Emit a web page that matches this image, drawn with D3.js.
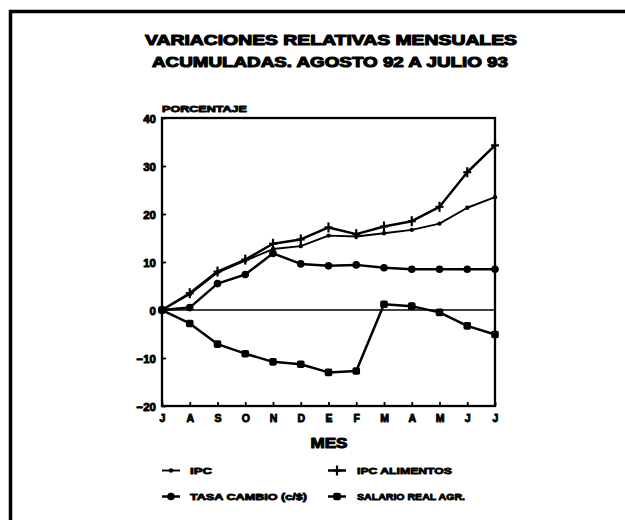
<!DOCTYPE html>
<html><head><meta charset="utf-8">
<script src="https://cdn.jsdelivr.net/npm/d3@7"></script>
<style>
html,body{margin:0;padding:0;background:#fff;}
text{font-family:"Liberation Sans",Arial,sans-serif;font-weight:bold;fill:#000;}
</style></head>
<body>
<svg id="chart" width="625" height="520"></svg>
<script>
const months = ["J","A","S","O","N","D","E","F","M","A","M","J","J"];
const ipc       = [0, 3.3, 7.8, 10.3, 12.7, 13.3, 15.5, 15.3, 16.0, 16.7, 18.0, 21.3, 23.5];
const ipcAlim   = [0, 3.5, 8.0, 10.5, 13.8, 14.7, 17.2, 15.8, 17.4, 18.5, 21.5, 28.7, 34.3];
const tasaCambio= [0, 0.5, 5.5, 7.4, 11.8, 9.6, 9.2, 9.4, 8.8, 8.5, 8.5, 8.5, 8.5];
const salario   = [0, -2.8, -7.1, -9.1, -10.8, -11.3, -13.0, -12.7, 1.2, 0.8, -0.5, -3.3, -5.1];
const yTicks = [-20, -10, 0, 10, 20, 30, 40];
const titleLines = ["VARIACIONES RELATIVAS MENSUALES", "ACUMULADAS. AGOSTO 92 A JULIO 93"];
const legendLabels = ["IPC", "IPC ALIMENTOS", "TASA CAMBIO (c/$)", "SALARIO REAL AGR."];

const svg = d3.select("#chart");
const L = 162, R = 495, T = 118, B = 406;
const idx = d3.range(months.length);
const x = d3.scalePoint().domain(idx).range([L, R]);
const y = d3.scaleLinear().domain([-20, 40]).range([B, T]);

// outer frame (top and left edges)
svg.append("path").attr("d", "M10.5,520 L10.5,11.5 L625,11.5")
  .attr("fill", "none").attr("stroke", "#000").attr("stroke-width", 3.5);

// title
const tl = [[331, 45, 372], [330, 66.5, 356]];
titleLines.forEach((t, i) => {
  svg.append("text").attr("x", tl[i][0]).attr("y", tl[i][1])
    .attr("text-anchor", "middle").attr("font-size", 14.5)
    .attr("stroke", "#000").attr("stroke-width", 1.1).attr("stroke-linejoin", "round")
    .attr("textLength", tl[i][2]).attr("lengthAdjust", "spacingAndGlyphs")
    .text(t);
});

// y label
svg.append("text").attr("x", 162).attr("y", 112).attr("font-size", 8.5)
  .attr("stroke", "#000").attr("stroke-width", 0.8).attr("stroke-linejoin", "round")
  .attr("textLength", 85).attr("lengthAdjust", "spacingAndGlyphs")
  .text("PORCENTAJE");

// plot box
svg.append("rect").attr("x", L).attr("y", T).attr("width", R - L).attr("height", B - T)
  .attr("fill", "none").attr("stroke", "#000").attr("stroke-width", 2.3);

// y axis
const yAxis = svg.append("g").attr("transform", `translate(${L},0)`)
  .call(d3.axisLeft(y).tickValues(yTicks).tickSize(-4).tickPadding(6).tickFormat(d3.format("d")));
yAxis.select(".domain").remove();
yAxis.selectAll("line").attr("stroke", "#000").attr("stroke-width", 1.8);
yAxis.selectAll("text").attr("font-size", 11.5).attr("font-family", null)
  .attr("stroke", "#000").attr("stroke-width", 0.9).attr("stroke-linejoin", "round")
  .attr("dy", "0.35em").attr("x", -6);

// x axis
const xAxis = svg.append("g").attr("transform", `translate(0,${B})`)
  .call(d3.axisBottom(x).tickSize(-4).tickPadding(9).tickFormat(i => months[i]));
xAxis.select(".domain").remove();
xAxis.selectAll("line").attr("stroke", "#000").attr("stroke-width", 1.8);
xAxis.selectAll("text").attr("font-size", 10.5).attr("font-family", null)
  .attr("stroke", "#000").attr("stroke-width", 0.9).attr("stroke-linejoin", "round");

// zero line
svg.append("line").attr("x1", L).attr("x2", R).attr("y1", y(0)).attr("y2", y(0))
  .attr("stroke", "#000").attr("stroke-width", 1.6);

// x label
svg.append("text").attr("x", 329).attr("y", 448).attr("text-anchor", "middle")
  .attr("font-size", 15).attr("stroke", "#000").attr("stroke-width", 1.1).attr("stroke-linejoin", "round")
  .attr("textLength", 37).attr("lengthAdjust", "spacingAndGlyphs").text("MES");

const line = d3.line().x((d, i) => x(i)).y(d => y(d));

const series = [
  {vals: ipc, w: 1.9, m: "dot"},
  {vals: ipcAlim, w: 2.5, m: "plus"},
  {vals: tasaCambio, w: 2.5, m: "circle"},
  {vals: salario, w: 2.5, m: "square"}
];

function marker(g, type, cx, cy) {
  if (type === "dot") {
    g.append("circle").attr("cx", cx).attr("cy", cy).attr("r", 2.2).attr("fill", "#000");
  } else if (type === "plus") {
    g.append("line").attr("x1", cx).attr("x2", cx).attr("y1", cy - 5).attr("y2", cy + 5)
      .attr("stroke", "#000").attr("stroke-width", 2.2);
    g.append("line").attr("x1", cx - 4).attr("x2", cx + 4).attr("y1", cy).attr("y2", cy)
      .attr("stroke", "#000").attr("stroke-width", 2.2);
  } else if (type === "circle") {
    g.append("circle").attr("cx", cx).attr("cy", cy).attr("r", 3.8).attr("fill", "#000");
  } else {
    g.append("rect").attr("x", cx - 3.8).attr("y", cy - 3.8).attr("width", 7.6).attr("height", 7.6)
      .attr("rx", 1.8).attr("fill", "#000");
  }
}

series.forEach(s => {
  svg.append("path").attr("d", line(s.vals)).attr("fill", "none")
    .attr("stroke", "#000").attr("stroke-width", s.w).attr("stroke-linejoin", "round");
  const g = svg.append("g");
  s.vals.forEach((v, i) => marker(g, s.m, x(i), y(v)));
});

// legend
const legPos = [[162, 474, 190, 22], [328, 474, 357, 95], [162, 500, 190, 117], [328, 500, 357, 108]];
legendLabels.forEach((lab, i) => {
  const [lx, ly, tx, tw] = legPos[i];
  const g = svg.append("g");
  g.append("line").attr("x1", lx).attr("x2", lx + 18).attr("y1", ly - 3.5).attr("y2", ly - 3.5)
    .attr("stroke", "#000").attr("stroke-width", series[i].w);
  marker(g, series[i].m, lx + 9, ly - 3.5);
  g.append("text").attr("x", tx).attr("y", ly).attr("font-size", 9)
    .attr("stroke", "#000").attr("stroke-width", 0.8).attr("stroke-linejoin", "round")
    .attr("textLength", tw).attr("lengthAdjust", "spacingAndGlyphs").text(lab);
});
</script>
</body></html>
